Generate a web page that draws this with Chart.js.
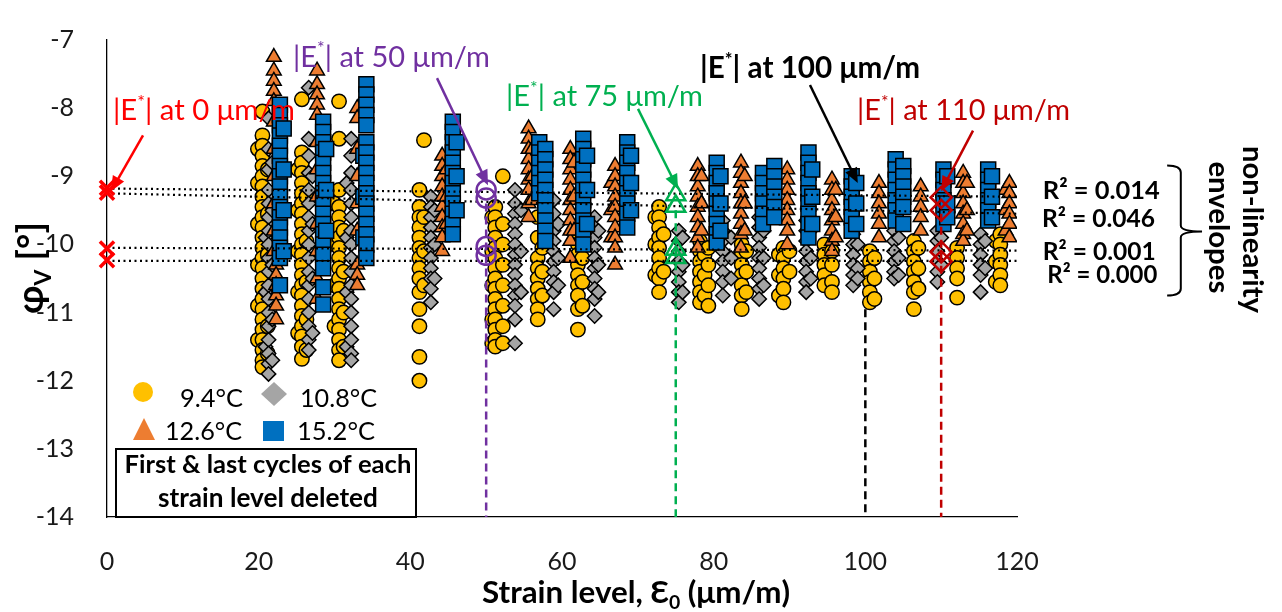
<!DOCTYPE html>
<html>
<head>
<meta charset="utf-8">
<script src="https://cdn.jsdelivr.net/npm/chart.js@4.4.0/dist/chart.umd.min.js"></script>
<style>
  html, body { margin: 0; padding: 0; background: #fff; }
  #wrap { width: 1282px; height: 612px; }
</style>
</head>
<body>
<div id="wrap"><canvas id="chart" width="1282" height="612"></canvas></div>
<script>
// phase angle readings per strain column: [strain (µm/m), [phi_V values]]
const phi94 = [
  [19.9, [-8.6, -9.1, -9.7, -10.3, -10.9, -11.4]],
  [20.5, [-8.05, -8.4, -8.55, -8.7, -8.85, -9.0, -9.15, -9.3, -9.45, -9.6, -9.75, -9.9, -10.05, -10.2, -10.35, -10.5, -10.65, -10.8, -10.95, -11.1, -11.25, -11.4, -11.55, -11.7, -11.8]],
  [21.2, [-8.9, -9.55, -10.15, -10.7, -11.2, -11.6]],
  [25.2, [-8.9, -9.5, -10.1, -10.7, -11.3]],
  [25.7, [-7.87, -8.65, -8.8, -8.95, -9.1, -9.25, -9.4, -9.55, -9.7, -9.85, -10.0, -10.15, -10.3, -10.45, -10.6, -10.75, -10.9, -11.05, -11.2, -11.35, -11.5, -11.68]],
  [26.3, [-9.3, -9.95, -10.55, -11.1, -11.55]],
  [30.0, [-9.4, -10.0, -10.6, -11.2]],
  [30.6, [-7.9, -8.45, -9.2, -9.45, -9.6, -9.75, -9.9, -10.05, -10.2, -10.35, -10.5, -10.65, -10.8, -10.95, -11.1, -11.25, -11.4, -11.55, -11.7]],
  [31.2, [-9.8, -10.4, -11.0, -11.5]],
  [41.2, [-9.2, -9.45, -9.6, -9.75, -9.9, -10.05, -10.2, -10.35, -10.5, -10.7, -10.95, -11.2, -11.65, -12.0]],
  [41.8, [-8.47, -9.6, -10.1, -10.6]],
  [50.8, [-9.6, -10.1, -10.6, -11.1, -11.45]],
  [51.2, [-9.45, -9.6, -9.75, -9.9, -10.05, -10.2, -10.35, -10.5, -10.65, -10.8, -10.95, -11.1, -11.25, -11.4, -11.5]],
  [52.2, [-9.0, -9.7, -10.0, -10.3, -10.6, -10.9, -11.2, -11.45]],
  [56.8, [-9.6, -9.9, -10.2, -10.35, -10.5, -10.65, -10.8, -10.95, -11.1]],
  [57.4, [-10.05, -10.4, -10.75]],
  [62.1, [-9.85, -10.0, -10.15, -10.3, -10.45, -10.6, -10.75, -10.95, -11.25]],
  [62.7, [-10.2, -10.55, -10.9]],
  [72.3, [-9.6, -10.0, -10.45]],
  [72.8, [-9.45, -9.6, -9.75, -9.9, -10.05, -10.2, -10.35, -10.5, -10.7]],
  [73.4, [-9.85, -10.4]],
  [78.2, [-9.95, -10.1, -10.25, -10.4, -10.55, -10.7, -10.85]],
  [78.8, [-10.15, -10.45, -10.75]],
  [79.3, [-10.05, -10.3, -10.6, -10.9]],
  [83.7, [-10.0, -10.15, -10.3, -10.45, -10.6, -10.75, -10.95]],
  [84.3, [-10.1, -10.4, -10.7]],
  [88.6, [-10.15, -10.45, -10.75]],
  [89.2, [-10.05, -10.2, -10.35, -10.5, -10.65, -10.85]],
  [90.0, [-10.1, -10.4]],
  [94.6, [-10.0, -10.15, -10.3, -10.45, -10.6]],
  [95.6, [-10.1, -10.3, -10.55, -10.7]],
  [100.6, [-10.1, -10.25, -10.4, -10.55, -10.7, -10.85]],
  [101.2, [-10.2, -10.5, -10.8]],
  [106.4, [-9.95, -10.1, -10.25, -10.4, -10.55, -10.7, -10.95]],
  [107.0, [-10.05, -10.35, -10.65]],
  [112.1, [-10.05, -10.2, -10.35, -10.5, -10.78]],
  [117.2, [-9.95, -10.25, -10.55]],
  [117.8, [-9.85, -10.0, -10.15, -10.3, -10.45, -10.6]]
];
const phi108 = [
  [20.9, [-9.9, -10.7, -11.5]],
  [21.3, [-8.15, -8.6, -8.9, -9.2, -9.4, -9.6, -9.8, -10.0, -10.2, -10.4, -10.6, -10.8, -11.0, -11.2, -11.4, -11.6, -11.75, -11.9]],
  [21.8, [-8.8, -9.5, -10.3, -11.1, -11.7]],
  [26.6, [-7.7, -8.45, -8.7, -8.95, -9.2, -9.4, -9.6, -9.8, -10.0, -10.2, -10.4, -10.6, -10.8, -11.0, -11.2, -11.4, -11.55]],
  [27.1, [-9.0, -9.7, -10.5, -11.3]],
  [31.6, [-9.1, -9.9, -10.7, -11.5]],
  [32.2, [-8.45, -8.7, -8.95, -9.2, -9.4, -9.6, -9.8, -10.0, -10.2, -10.4, -10.6, -10.8, -11.0, -11.2, -11.4, -11.6, -11.7]],
  [42.7, [-9.3, -9.45, -9.6, -9.75, -9.9, -10.05, -10.2, -10.35, -10.5, -10.65, -10.85]],
  [43.2, [-9.5, -10.0, -10.5]],
  [53.8, [-9.2, -9.4, -9.55, -9.7, -9.85, -10.0, -10.15, -10.3, -10.45, -10.6, -10.75, -10.9, -11.1, -11.45]],
  [54.6, [-9.5, -10.1, -10.7]],
  [58.9, [-9.35, -9.55, -9.8, -9.95, -10.1, -10.25, -10.4, -10.55, -10.7, -10.95]],
  [59.5, [-9.7, -10.2, -10.6]],
  [64.3, [-9.6, -9.75, -9.9, -10.05, -10.2, -10.35, -10.5, -10.65, -10.8, -11.05]],
  [64.8, [-9.8, -10.3, -10.7]],
  [75.4, [-9.8, -9.95, -10.1, -10.25, -10.4, -10.55, -10.7, -10.85]],
  [75.9, [-9.9, -10.3, -10.7]],
  [81.2, [-9.65, -9.8, -9.95, -10.1, -10.25, -10.4, -10.55, -10.75]],
  [82.3, [-9.9, -10.2, -10.5]],
  [86.0, [-9.6, -9.75, -9.9, -10.05, -10.2, -10.35, -10.5, -10.65, -10.8]],
  [86.6, [-9.8, -10.2, -10.6]],
  [92.2, [-9.65, -9.8, -9.95, -10.1, -10.25, -10.4, -10.55, -10.7]],
  [92.8, [-9.8, -10.2, -10.5]],
  [98.4, [-9.85, -10.0, -10.15, -10.3, -10.45, -10.6]],
  [99.0, [-10.0, -10.35, -10.5]],
  [103.8, [-9.8, -9.95, -10.1, -10.25, -10.4, -10.5]],
  [104.4, [-9.9, -10.2, -10.45]],
  [109.5, [-9.8, -9.95, -10.1, -10.25, -10.4, -10.55]],
  [110.0, [-9.9, -10.3]],
  [115.2, [-9.85, -10.0, -10.15, -10.3, -10.45, -10.7]],
  [115.8, [-9.95, -10.35]]
];
const phi126 = [
  [22.0, [-7.25, -7.45, -7.6, -7.75, -7.9, -8.2, -8.6, -9.0, -9.4, -9.8, -10.1]],
  [22.3, [-10.3, -10.45, -10.6, -10.75, -10.9, -11.1]],
  [27.7, [-7.45, -7.65, -7.8, -7.95, -8.1, -8.5, -8.9, -9.3, -9.7, -10.1, -10.5, -10.8]],
  [33.0, [-8.0, -8.15, -8.6, -9.0, -9.4, -9.8, -10.3, -10.45, -10.6]],
  [44.2, [-8.7, -8.85, -9.0, -9.15, -9.3, -9.45, -9.6, -9.75, -9.9, -10.1]],
  [44.8, [-8.9, -9.3, -9.7]],
  [55.6, [-8.3, -8.45, -8.6, -8.75, -8.9, -9.05, -9.2, -9.4, -9.6]],
  [56.1, [-8.6, -9.0, -9.35]],
  [61.1, [-8.6, -8.75, -8.9, -9.05, -9.2, -9.35, -9.5, -9.65, -9.8, -9.95, -10.2]],
  [61.6, [-8.8, -9.3, -9.8]],
  [66.5, [-9.1, -9.5, -9.9]],
  [67.0, [-8.85, -9.0, -9.15, -9.3, -9.45, -9.6, -9.75, -9.9, -10.05, -10.3]],
  [77.9, [-8.85, -9.0, -9.15, -9.3, -9.45, -9.6, -9.75, -9.9, -10.05]],
  [78.4, [-9.0, -9.4, -9.8]],
  [83.6, [-8.8, -8.95, -9.1, -9.25, -9.4, -9.55, -9.7, -9.85, -10.05]],
  [84.1, [-9.0, -9.4, -9.8]],
  [89.7, [-8.9, -9.05, -9.2, -9.35, -9.5, -9.65, -9.8, -10.0]],
  [95.6, [-9.05, -9.2, -9.35, -9.5, -9.65, -9.8, -9.95, -10.1]],
  [96.1, [-9.2, -9.6, -9.9]],
  [101.8, [-9.1, -9.25, -9.4, -9.55, -9.7, -9.9]],
  [107.3, [-9.15, -9.3, -9.45, -9.6, -9.8]],
  [112.9, [-8.95, -9.1, -9.25, -9.4, -9.55, -9.7, -9.85, -9.95]],
  [113.4, [-9.1, -9.5, -9.8]],
  [118.5, [-9.2, -9.5, -9.8]],
  [119.0, [-9.1, -9.25, -9.4, -9.55, -9.7, -9.9]]
];
const phi152 = [
  [22.8, [-7.95, -8.1, -8.25, -8.4, -8.55, -8.7, -8.85, -9.0, -9.15, -9.3, -9.45, -9.6, -9.75, -9.9, -10.05, -10.2, -10.6]],
  [23.3, [-8.3, -8.9, -9.5, -10.1]],
  [28.5, [-8.2, -8.35, -8.5, -8.65, -8.8, -8.95, -9.1, -9.25, -9.4, -9.55, -9.7, -9.85, -10.0, -10.15, -10.35, -10.63, -10.88]],
  [28.9, [-8.6, -9.2, -9.8]],
  [33.8, [-8.7, -9.3, -9.9]],
  [34.2, [-7.65, -7.8, -7.95, -8.1, -8.25, -8.5, -8.65, -8.8, -8.95, -9.1, -9.25, -9.4, -9.55, -9.7, -9.85, -10.0, -10.2]],
  [45.6, [-8.2, -8.35, -8.5, -8.65, -8.8, -8.95, -9.1, -9.25, -9.4, -9.55, -9.7, -9.85]],
  [46.1, [-8.5, -9.0, -9.5]],
  [57.0, [-8.5, -8.65, -8.8, -8.95, -9.1, -9.25]],
  [57.8, [-8.6, -8.75, -8.9, -9.05, -9.2, -9.35, -9.5, -9.65, -9.8, -9.95]],
  [62.8, [-8.45, -8.6, -8.75, -8.9, -9.05, -9.2, -9.35, -9.5, -9.65, -9.8, -10.0]],
  [63.3, [-8.7, -9.2, -9.7]],
  [68.6, [-8.5, -8.65, -8.8, -8.95, -9.1, -9.25, -9.4, -9.55, -9.75]],
  [69.1, [-8.7, -9.1, -9.5]],
  [80.4, [-8.8, -8.95, -9.1, -9.25, -9.4, -9.55, -9.7, -9.85, -9.97]],
  [80.9, [-9.0, -9.4, -9.8]],
  [86.5, [-8.95, -9.1, -9.25, -9.4, -9.55, -9.7]],
  [88.0, [-8.85, -9.0, -9.15, -9.3, -9.45, -9.6]],
  [92.5, [-8.65, -8.8, -8.95, -9.1, -9.25, -9.4, -9.55, -9.7, -9.9]],
  [93.0, [-8.9, -9.3, -9.7]],
  [98.2, [-9.0, -9.15, -9.3, -9.45, -9.6, -9.8]],
  [98.8, [-9.1, -9.4, -9.7]],
  [104.0, [-8.75, -8.9, -9.05, -9.2, -9.35, -9.5, -9.65]],
  [105.0, [-8.85, -9.0, -9.15, -9.3, -9.45, -9.7]],
  [110.3, [-8.9, -9.05, -9.2, -9.35, -9.5, -9.7]],
  [110.8, [-9.0, -9.4, -9.6]],
  [116.2, [-8.9, -9.05, -9.2, -9.35, -9.5, -9.65]],
  [116.7, [-9.0, -9.3, -9.6]]
];

// |E*| reference points
const ref0 = [-9.17, -9.24, -10.06, -10.23];
const ref50 = [-9.2, -9.32, -10.03, -10.16];
const ref75 = [-9.27, -9.44, -10.07, -10.19];
const ref110 = [-9.31, -9.5, -10.11, -10.25];

// dotted envelopes, value at strain 0 and 120
const trendX = [0, 120];
const trendLines = [[-9.18, -9.30], [-9.25, -9.55], [-10.05, -10.09], [-10.24, -10.24]];
const r2Labels = ['0.014', '0.046', '0.001', '0.000'];

// callouts
const refStrain = [0, 50, 75, 100, 110];
const refColor = ['#FF0000', '#7030A0', '#00B050', '#000000', '#C00000'];
const refLineTop = [null, -9.4, -9.5, -10.95, -9.55];

const xTicks = [0, 20, 40, 60, 80, 100, 120];
const yTicks = [-14, -13, -12, -11, -10, -9, -8, -7];

const FONT = 'Lato, "Open Sans", sans-serif';

const toPts = cols => cols.flatMap(([x, ys]) => ys.map(y => ({ x, y })));
const colPts = (x, ys) => ys.map(y => ({ x, y }));

function rich(ctx, parts, x, y, o) {
  const face = s => (o.bold ? 'bold ' : '') + s.toFixed(2) + 'px ' + FONT;
  let w = 0;
  parts.forEach(p => { ctx.font = face(o.size * p[1]); w += ctx.measureText(p[0]).width; });
  const k = o.width ? o.width / w : 1;
  let cx = o.align === 'center' ? x - w * k / 2 : x;
  ctx.fillStyle = o.color || '#000';
  ctx.textAlign = 'left';
  ctx.textBaseline = 'alphabetic';
  parts.forEach(p => {
    ctx.font = face(o.size * k * p[1]);
    ctx.fillText(p[0], cx, y + (p[2] || 0) * o.size * k);
    cx += ctx.measureText(p[0]).width;
  });
}

function arrow(ctx, x1, y1, x2, y2, color) {
  const a = Math.atan2(y2 - y1, x2 - x1), L = 15, W = 6.5;
  const c = Math.cos(a), s = Math.sin(a);
  ctx.strokeStyle = color;
  ctx.fillStyle = color;
  ctx.lineWidth = 2.5;
  ctx.beginPath();
  ctx.moveTo(x1, y1);
  ctx.lineTo(x2 - L * 0.8 * c, y2 - L * 0.8 * s);
  ctx.stroke();
  ctx.beginPath();
  ctx.moveTo(x2, y2);
  ctx.lineTo(x2 - L * c + W * s, y2 - L * s - W * c);
  ctx.lineTo(x2 - L * c - W * s, y2 - L * s + W * c);
  ctx.closePath();
  ctx.fill();
}

// callout placement in data units: text start / baseline, arrow tail, arrow tip
const labelAt = [[0.79, -8.18, 182], [24.53, -7.39, 197], [52.62, -7.97, 197], [78.2, -7.56, 220], [98.9, -8.18, 213]];
const arrowFrom = [[4.75, -8.40], [43.52, -7.56], [70.02, -8.01], [92.7, -7.66], [114.2, -8.33]];
const arrowTo = [[0.53, -9.22], [50.24, -9.13], [75.3, -9.19], [99.0, -9.10], [110.0, -9.22]];
const r2At = [[123.4, -9.34, 117], [123.3, -9.74, 113], [123.4, -10.23, 113], [124.0, -10.56, 110]];

const decor = {
  id: 'decor',
  afterDraw(chart) {
    const { ctx, scales: { x, y } } = chart;
    const px = v => x.getPixelForValue(v), py = v => y.getPixelForValue(v);
    ctx.save();

    // callouts
    refStrain.forEach((s, i) => {
      arrow(ctx, px(arrowFrom[i][0]), py(arrowFrom[i][1]), px(arrowTo[i][0]), py(arrowTo[i][1]), refColor[i]);
      rich(ctx, [['|E', 1], ['*', 0.62, -0.42], ['| at ' + s + ' μm/m', 1]],
        px(labelAt[i][0]), py(labelAt[i][1]),
        { size: 28, width: labelAt[i][2], color: refColor[i], bold: s === 100 });
    });

    // R² values
    r2Labels.forEach((t, i) => {
      rich(ctx, [['R² = ' + t, 1]], px(r2At[i][0]), py(r2At[i][1]), { size: 26, width: r2At[i][2], bold: true });
    });

    // brace
    const b0 = px(139.8), b1 = px(141.6), b2 = px(144.4);
    const yt = py(-8.84), ym = py(-9.81), yb = py(-10.75);
    ctx.strokeStyle = '#000';
    ctx.lineWidth = 2;
    ctx.beginPath();
    ctx.moveTo(b0, yt);
    ctx.quadraticCurveTo(b1, yt, b1, yt + 7);
    ctx.lineTo(b1, ym - 6);
    ctx.quadraticCurveTo(b1, ym, b2, ym);
    ctx.quadraticCurveTo(b1, ym, b1, ym + 6);
    ctx.lineTo(b1, yb - 7);
    ctx.quadraticCurveTo(b1, yb, b0, yb);
    ctx.stroke();

    // rotated side label
    [['non-linearity', 149.8, -9.78, 167], ['envelopes', 145.3, -9.75, 132]].forEach(([t, vx, vy, w]) => {
      ctx.save();
      ctx.translate(px(vx), py(vy));
      ctx.rotate(Math.PI / 2);
      rich(ctx, [[t, 1]], 0, 0, { size: 28, width: w, bold: true, align: 'center' });
      ctx.restore();
    });

    // legend
    ctx.fillStyle = '#FFC000';
    ctx.beginPath(); ctx.arc(143, 392, 10, 0, Math.PI * 2); ctx.fill();
    ctx.fillStyle = '#A5A5A5';
    ctx.beginPath(); ctx.moveTo(274, 382); ctx.lineTo(287, 394); ctx.lineTo(274, 406); ctx.lineTo(261, 394); ctx.closePath(); ctx.fill();
    ctx.fillStyle = '#ED7D31';
    ctx.beginPath(); ctx.moveTo(144, 418); ctx.lineTo(155, 440); ctx.lineTo(133, 440); ctx.closePath(); ctx.fill();
    ctx.fillStyle = '#0070C0';
    ctx.fillRect(263, 421, 21, 20);
    rich(ctx, [['9.4°C', 1]], 180, 407, { size: 27, width: 63 });
    rich(ctx, [['10.8°C', 1]], 300, 407, { size: 27, width: 77 });
    rich(ctx, [['12.6°C', 1]], 165, 440, { size: 27, width: 77 });
    rich(ctx, [['15.2°C', 1]], 297, 440, { size: 27, width: 78 });

    // note box
    ctx.fillStyle = '#fff';
    ctx.fillRect(116, 449, 300, 68);
    ctx.strokeStyle = '#000';
    ctx.lineWidth = 2;
    ctx.strokeRect(116, 449, 300, 68);
    rich(ctx, [['First & last cycles of each', 1]], 268, 473, { size: 22, width: 287, bold: true, align: 'center' });
    rich(ctx, [['strain level deleted', 1]], 268, 507, { size: 22, width: 220, bold: true, align: 'center' });

    // axis titles
    rich(ctx, [['Strain level, Ɛ', 1], ['0', 0.62, 0.18], [' (μm/m)', 1]], 636, 603, { size: 28, width: 308, bold: true, align: 'center' });
    ctx.save();
    ctx.translate(33, 268);
    ctx.rotate(-Math.PI / 2);
    rich(ctx, [['φ', 1], ['V', 0.62, 0.22], [' [°]', 1]], 0, 10, { size: 30, width: 92, bold: true, align: 'center' });
    ctx.restore();

    ctx.restore();
  }
};

const scatterSet = (label, cols, style, radius, color, order) => ({
  label, data: toPts(cols), pointStyle: style, pointRadius: radius,
  pointBackgroundColor: color, pointBorderColor: '#000', pointBorderWidth: 1.5, order
});
const refSet = (x, ys, style, radius, color, width) => ({
  data: colPts(x, ys), pointStyle: style, pointRadius: radius,
  pointBackgroundColor: 'rgba(0,0,0,0)', pointBorderColor: color, pointBorderWidth: width,
  clip: false, order: 1
});

const datasets = [
  scatterSet('9.4°C', phi94, 'circle', 7.2, '#FFC000', 10),
  scatterSet('10.8°C', phi108, 'rectRot', 7.2, '#A5A5A5', 9),
  scatterSet('12.6°C', phi126, 'triangle', 8.5, '#ED7D31', 8),
  scatterSet('15.2°C', phi152, 'rect', 10.6, '#0070C0', 7)
];
trendLines.forEach(t => datasets.push({
  data: trendX.map((x, i) => ({ x, y: t[i] })), showLine: true, pointRadius: 0,
  borderColor: '#000', borderWidth: 2.2, borderDash: [2, 3.5], order: 5
}));
refStrain.forEach((s, i) => {
  if (refLineTop[i] === null) return;
  datasets.push({
    data: [{ x: s, y: refLineTop[i] }, { x: s, y: -14 }], showLine: true, pointRadius: 0,
    borderColor: refColor[i], borderWidth: 2.5, borderDash: [8, 5], order: 4
  });
});
datasets.push(refSet(0, ref0, 'crossRot', 10, '#FF0000', 3.5));
datasets.push(refSet(50, ref50, 'circle', 9.5, '#7030A0', 2.5));
datasets.push(refSet(75, ref75, 'triangle', 11, '#00B050', 2.5));
datasets.push(refSet(110, ref110, 'rectRot', 10.5, '#C00000', 2.5));

new Chart(document.getElementById('chart').getContext('2d'), {
  type: 'scatter',
  data: { datasets },
  options: {
    responsive: false,
    animation: false,
    devicePixelRatio: 1,
    events: [],
    layout: { padding: { left: 0, right: 265, top: 18, bottom: 0 } },
    plugins: { legend: { display: false }, tooltip: { enabled: false } },
    scales: {
      x: {
        type: 'linear', min: 0, max: 120,
        afterBuildTicks: s => { s.ticks = xTicks.map(v => ({ value: v })); },
        ticks: { padding: 22, color: '#1a1a1a', font: { family: FONT, size: 25 } },
        grid: { display: false },
        border: { display: true, color: '#000', width: 1.3 },
        afterFit: s => { s.height = 95; }
      },
      y: {
        type: 'linear', min: -14, max: -7,
        afterBuildTicks: s => { s.ticks = yTicks.map(v => ({ value: v })); },
        ticks: { padding: 25, color: '#1a1a1a', font: { family: FONT, size: 25 } },
        grid: { display: false },
        border: { display: true, color: '#000', width: 1.3 },
        afterFit: s => { s.width = 107; }
      }
    }
  },
  plugins: [decor]
});
</script>
</body>
</html>
